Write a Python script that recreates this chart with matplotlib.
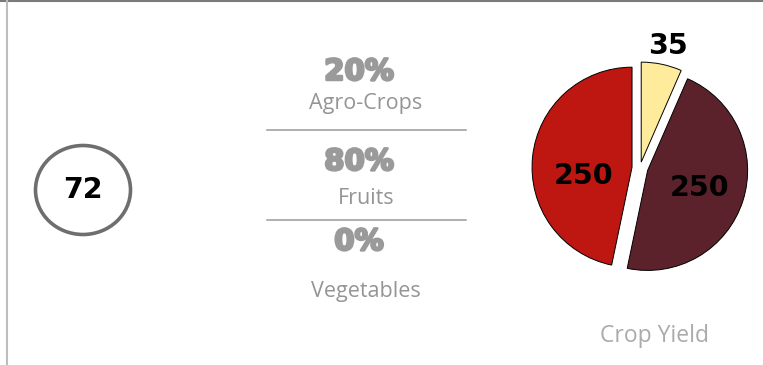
import matplotlib.pyplot as plt
from matplotlib.patches import Ellipse
import matplotlib.patheffects as pe

# data
yield_values = [35, 250, 250]
yield_colors = ['#FFEB9C', '#5C222B', '#BE1610']
kpi_value = 72
shares = ['20%', '80%', '0%']
share_labels = ['Agro-Crops', 'Fruits', 'Vegetables']

W, H = 763, 365
fig = plt.figure(figsize=(W / 100, H / 100), dpi=100)
ax = fig.add_axes([0, 0, 1, 1])


def py(y):
    # pixel row (from top) -> data y
    return H - y


# pie (axes is in pixel units, so explode is in pixels too)
ax.pie(yield_values, colors=yield_colors, startangle=90, counterclock=False,
       explode=[6, 8, 8], radius=100, center=(640, py(168)),
       wedgeprops=dict(edgecolor='black', linewidth=0.7))

ax.set_xlim(0, W)
ax.set_ylim(0, H)
ax.set_aspect('auto')
ax.axis('off')

lbl = dict(fontsize=20.5, fontweight='bold', color='black', ha='center', va='center')
ax.text(668, py(46), str(yield_values[0]), **lbl)
ax.text(700, py(188), str(yield_values[1]), **lbl)
ax.text(584, py(176), str(yield_values[2]), **lbl)
ax.text(655, py(336), 'Crop Yield', fontsize=16.5, color='#ABABAB',
        family='Open Sans', ha='center', va='center')

# kpi circle
ax.add_patch(Ellipse((83, py(190)), 95, 89, fill=False, edgecolor='#6E6E6E', linewidth=2.6))
ax.text(83, py(190), str(kpi_value), **lbl)

# share list
big_y = [72, 162, 242]
small_y = [103, 198, 292]
for s, lab, yb, ys in zip(shares, share_labels, big_y, small_y):
    ax.text(359, py(yb), s, fontsize=21, fontweight='bold', color='#9A9A9A',
            ha='center', va='center',
            path_effects=[pe.withStroke(linewidth=1.8, foreground='#9A9A9A')])
    ax.text(366, py(ys), lab, fontsize=15.5, color='#959595', family='Open Sans',
            ha='center', va='center')

for yl in [129.5, 219.5]:
    ax.plot([267, 466], [py(yl), py(yl)], color='#9A9A9A', linewidth=1.1)

# frame
ax.plot([0, W], [py(0.5), py(0.5)], color='#7A7A7A', linewidth=1.5)
ax.plot([7, 7], [0, py(0)], color='#BDBDBD', linewidth=1.5)

fig.savefig('out.png', dpi=100)
